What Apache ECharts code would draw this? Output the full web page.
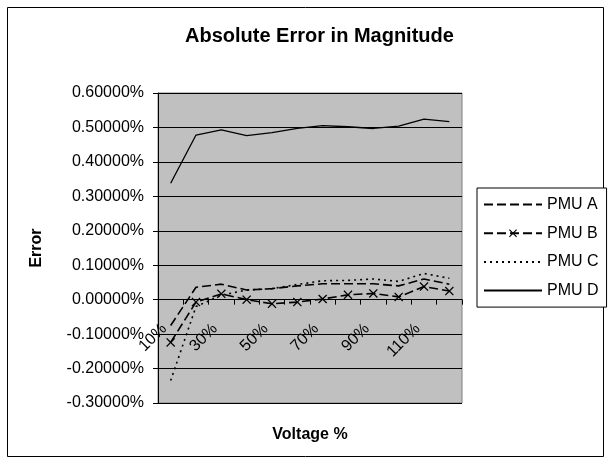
<!DOCTYPE html>
<html>
<head>
<meta charset="utf-8">
<script src="https://cdn.jsdelivr.net/npm/echarts@6/dist/echarts.min.js"></script>
<style>html,body{margin:0;padding:0;background:#fff}#c{width:611px;height:465px}</style>
</head>
<body>
<div id="c"></div>
<script>
const categories = ['10%','20%','30%','40%','50%','60%','70%','80%','90%','100%','110%','120%'];
const pmuA = [-0.075, 0.036, 0.045, 0.028, 0.032, 0.040, 0.046, 0.046, 0.046, 0.040, 0.060, 0.045];
const pmuB = [-0.124, -0.007, 0.017, 0.000, -0.012, -0.007, 0.002, 0.014, 0.018, 0.008, 0.038, 0.025];
const pmuC = [-0.235, -0.020, 0.013, 0.028, 0.032, 0.044, 0.055, 0.056, 0.060, 0.053, 0.076, 0.062];
const pmuD = [0.338, 0.478, 0.493, 0.476, 0.485, 0.497, 0.505, 0.502, 0.497, 0.504, 0.524, 0.517];
const yTicks = {min: -0.3, max: 0.6, interval: 0.1};

const FONT = 'Liberation Sans, Arial, sans-serif';
const xPath = 'path://M0,1L1,0L5,4L9,0L10,1L6,5L10,9L9,10L5,6L1,10L0,9L4,5Z';

const chart = echarts.init(document.getElementById('c'), null, {renderer: 'canvas'});
chart.setOption({
  animation: false,
  backgroundColor: '#fff',
  textStyle: {fontFamily: FONT, color: '#000'},
  title: {
    text: 'Absolute Error in Magnitude',
    left: 180, top: 21,
    textStyle: {fontFamily: FONT, fontSize: 20, fontWeight: 'bold', color: '#000'}
  },
  graphic: [{
    type: 'rect', silent: true,
    shape: {x: 7.5, y: 7.5, width: 596, height: 449},
    style: {fill: 'none', stroke: '#000', lineWidth: 1}
  }],
  legend: {
    orient: 'vertical',
    left: 477, top: 188,
    width: 120,
    padding: [8.5, 8, 8.5, 6],
    itemGap: 12.7,
    itemWidth: 58, itemHeight: 10,
    borderColor: '#000', borderWidth: 1,
    backgroundColor: '#fff',
    textStyle: {fontFamily: FONT, fontSize: 16, color: '#000'},
    data: [
      {name: 'PMU A', itemStyle: {opacity: 0}},
      {name: 'PMU B'},
      {name: 'PMU C', itemStyle: {opacity: 0}},
      {name: 'PMU D', itemStyle: {opacity: 0}}
    ]
  },
  grid: {
    left: 158, right: 149, top: 93, bottom: 62,
    show: true, backgroundColor: '#C0C0C0', borderColor: '#808080', borderWidth: 1,
    containLabel: false,
    outerBoundsMode: 'none'
  },
  xAxis: {
    type: 'category',
    data: categories,
    boundaryGap: true,
    name: 'Voltage %',
    nameLocation: 'middle',
    nameGap: 24,
    nameTextStyle: {fontFamily: FONT, fontSize: 16, fontWeight: 'bold', color: '#000'},
    axisLine: {onZero: true, lineStyle: {color: '#000', width: 1}},
    axisTick: {show: true, interval: 0, inside: false, length: 5, lineStyle: {color: '#000'}},
    axisLabel: {
      interval: 1, rotate: 45, margin: -83,
      padding: [0, 9, 0, 0],
      fontFamily: FONT, fontSize: 16, color: '#000'
    },
    splitLine: {show: false}
  },
  yAxis: {
    type: 'value',
    min: yTicks.min, max: yTicks.max, interval: yTicks.interval,
    name: 'Error',
    nameLocation: 'middle',
    nameGap: 113,
    nameRotate: 90,
    nameTextStyle: {fontFamily: FONT, fontSize: 16, fontWeight: 'bold', color: '#000'},
    axisLine: {show: true, lineStyle: {color: '#000', width: 1}},
    axisTick: {show: true, inside: false, length: 5, lineStyle: {color: '#000'}},
    axisLabel: {
      margin: 14,
      fontFamily: FONT, fontSize: 16, color: '#000',
      formatter: v => v.toFixed(5) + '%'
    },
    splitLine: {show: true, lineStyle: {color: '#000', width: 1}}
  },
  series: [
    {
      name: 'PMU A', type: 'line', data: pmuA, symbol: 'none',
      lineStyle: {color: '#000', width: 1.6, type: [9, 4]},
      itemStyle: {color: '#000'}
    },
    {
      name: 'PMU B', type: 'line', data: pmuB, symbol: xPath, symbolSize: 9,
      lineStyle: {color: '#000', width: 1.6, type: [9, 4]},
      itemStyle: {color: '#000'}
    },
    {
      name: 'PMU C', type: 'line', data: pmuC, symbol: 'none',
      lineStyle: {color: '#000', width: 1.6, type: [2, 4]},
      itemStyle: {color: '#000'}
    },
    {
      name: 'PMU D', type: 'line', data: pmuD, symbol: 'none',
      lineStyle: {color: '#000', width: 1.3, type: 'solid'},
      itemStyle: {color: '#000'}
    }
  ]
});
</script>
</body>
</html>
